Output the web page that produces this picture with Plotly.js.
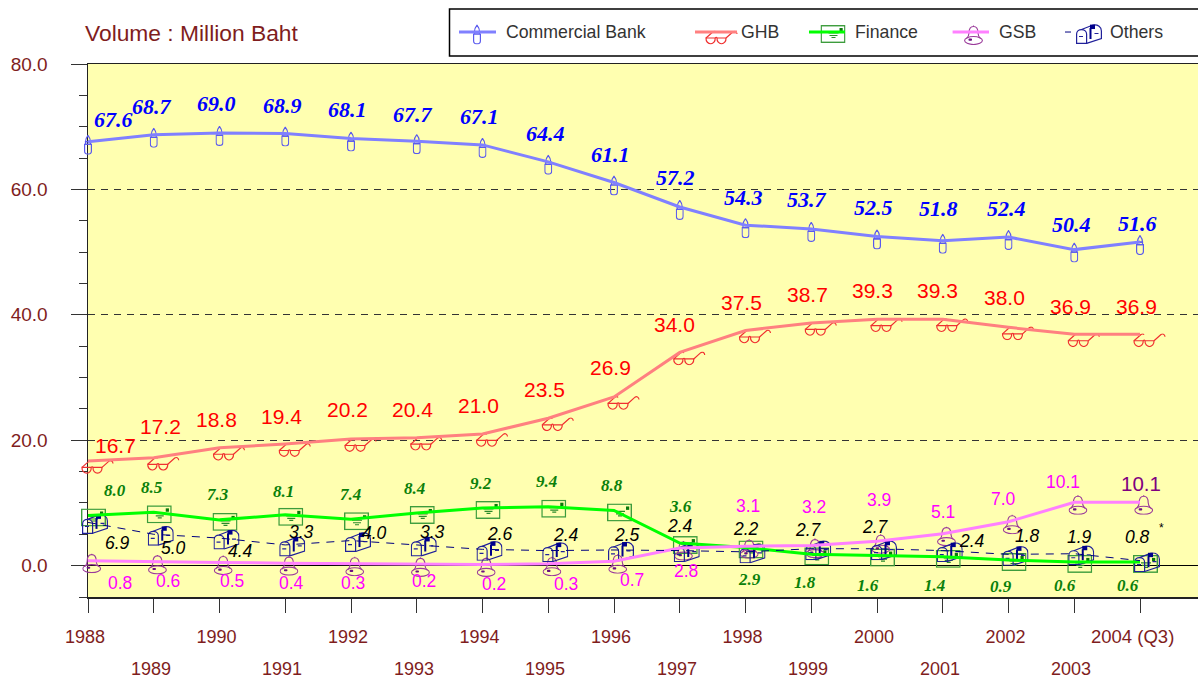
<!DOCTYPE html>
<html><head><meta charset="utf-8">
<script src="https://cdn.plot.ly/plotly-3.0.1.min.js"></script>
<style>html,body{margin:0;padding:0;background:#fff}#c{width:1198px;height:679px}</style>
</head><body><div id="c"></div>
<script>
const years=[1988,1989,1990,1991,1992,1993,1994,1995,1996,1997,1998,1999,2000,2001,2002,2003,2004];
const commercial=[67.6,68.7,69.0,68.9,68.1,67.7,67.1,64.4,61.1,57.2,54.3,53.7,52.5,51.8,52.4,50.4,51.6];
const ghb=[16.7,17.2,18.8,19.4,20.2,20.4,21.0,23.5,26.9,34.0,37.5,38.7,39.3,39.3,38.0,36.9,36.9];
const finance=[8.0,8.5,7.3,8.1,7.4,8.4,9.2,9.4,8.8,3.6,2.9,1.8,1.6,1.4,0.9,0.6,0.6];
const gsb=[0.8,0.6,0.5,0.4,0.3,0.2,0.2,0.3,0.7,2.8,3.1,3.2,3.9,5.1,7.0,10.1,10.1];
const others=[6.9,5.0,4.4,3.3,4.0,3.3,2.6,2.4,2.5,2.4,2.2,2.7,2.7,2.4,1.8,1.9,0.8];

// label offsets from each point, in pixels (right, up)
const commercialDx=[25,-2,-3,-3,-4,-4,-3,-3,-4,-4,-2,-4,-4,-4,-2,-3,-3];
const commercialDy=[22,28,29,28,29,27,28,28,28,29,28,29,29,32,29,25,19];
const ghbDx=[27,7,-3,-4,-4,-4,-4,-4,-4,-5,-4,-4,-5,-5,-4,-4,-4];
const ghbDy=[15,31,28,28,29,28,28,29,29,28,28,28,29,29,30,28,28];
const financeDx=[27,-2,-2,-2,-1,-2,-2,-2,-2,1,4,-6,-9,-8,-8,-9,-12];
const financeDy=[25,25,25,23,25,24,24,25,25,37,-32,-28,-30,-29,-26,-24,-24];
const othersDx=[29,20,21,16,23,16,17,18,13,0,0,-3,-2,29,19,5,-3];
const othersDy=[-21,-14,-13,13,8,13,15,16,15,25,23,19,22,10,18,17,24];
const gsbDx=[32,14,12,6,2,7,11,18,18,6,2,3,2,0,-5,-11,1];
const gsbDy=[-22,-19,-18,-20,-19,-17,-20,-20,-19,-23,40,39,41,22,23,20,19];

const W=1198,H=679,L=88,T=64,B=597.4;
const PW=W, PH=B-T, PXY=65.75, PY=PH/85;
const xMax=1988+(W-L)/PXY, xMin2=1988-L/PXY;
const DARKRED='#7f1d1d';

function uri(w,h,body){
  return 'data:image/svg+xml,'+encodeURIComponent(`<svg xmlns="http://www.w3.org/2000/svg" width="${w}" height="${h}" viewBox="0 0 ${w} ${h}" preserveAspectRatio="none"><g fill="none" stroke-width="1.2">${body}</g></svg>`);
}
const icons={
 candle:{w:8,h:20,dx:0,dy:3,src:uri(8,20,`<g stroke="#5a5aee"><path d="M4 .5C6 3 6.5 5 6.5 7L1.5 7C1.5 5 2 3 4 .5Z"/><path d="M1.5 7H6.5V9.5H1.5Z"/><path d="M.6 9.5H7.4V16.5C7.4 18.2 6 19.4 4 19.4S.6 18.2 .6 16.5Z"/></g>`)},
 glasses:{w:33,h:14,dx:9.5,dy:6,src:uri(33,14,`<g stroke="#f03030"><path d="M1 7.5L8 1.2C9 .5 10.5 .6 11 1.5"/><path d="M1 7.5H10.2C10.4 11 8.3 13.3 5.8 13.3C3.2 13.3 .8 11 1 7.5Z"/><path d="M10.2 7.5C11 6.7 11.6 6.7 12 7.5"/><path d="M12 7.5H21C21.2 11 19 13.3 16.5 13.3C14 13.3 11.8 11 12 7.5Z"/><path d="M21 7.5L28 1.2C29.5 .2 31.8 .8 32 3.5"/></g>`)},
 envelope:{w:25,h:18,dx:5.5,dy:2,src:uri(25,18,`<rect x=".7" y=".7" width="23.6" height="16.6" stroke="#3c9c3c" stroke-width="1.4"/><rect x="19" y="3" width="3.2" height="3.4" fill="#0a7a0a"/><path d="M8 8H18M9 10.5H17M11 12.5H15" stroke="#2a8a2a"/>`)},
 bell:{w:19,h:20,dx:3.7,dy:2.5,src:uri(19,20,`<g stroke="#9a3a9a" stroke-width="1.1"><path d="M9.5 1.5C6 1.5 5 4.5 5 8C5 10 4.5 11.5 2.5 13.5M9.5 1.5C13 1.5 14 4.5 14 8C14 10 14.5 11.5 16.5 13.5"/><path d="M9.5 .5V1.5"/><ellipse cx="9.5" cy="15.5" rx="8.9" ry="4"/></g><rect x="4.5" y="13.5" width="3.5" height="2.2" rx=".8" fill="#6a1080"/>`)},
 mailbox:{w:26,h:20,dx:7,dy:1.5,src:uri(26,20,`<g stroke="#20209a"><path d="M.6 10C.6 7 3 5.5 5.5 5.5C8 5.5 10.6 7 10.6 10V19.4H.6Z"/><path d="M5.5 5.5L17 1C22 .3 25.4 3 25.4 7V14.5L10.6 19.4"/><path d="M3 12.5H7M18.5 9.5H22.5"/></g><path d="M14.5 4V15" stroke="#00008b" stroke-width="2"/><rect x="14" y=".6" width="5" height="4.4" fill="#00008b"/>`)}
};

const series=[
 {name:'Commercial Bank',y:commercial,color:'#8080ff',width:3,icon:'candle',dx:commercialDx,dy:commercialDy,lc:'#0000ff',font:'"Liberation Serif"',size:22,weight:'bold',italic:true},
 {name:'GHB',y:ghb,color:'#ff8080',width:3,icon:'glasses',dx:ghbDx,dy:ghbDy,lc:'#ff0000',font:'"Liberation Sans"',size:21},
 {name:'Finance',y:finance,color:'#00ff00',width:3,icon:'envelope',dx:financeDx,dy:financeDy,lc:'#0a800a',font:'"Liberation Serif"',size:17,weight:'bold',italic:true},
 {name:'GSB',y:gsb,color:'#ff80ff',width:3,icon:'bell',dx:gsbDx,dy:gsbDy,lc:'#ff00ff',font:'"Liberation Sans"',size:17.5},
 {name:'Others',y:others,color:'#000080',width:1,dash:'8px,7px',icon:'mailbox',dx:othersDx,dy:othersDy,lc:'#000000',font:'"Liberation Sans"',size:17.5,italic:true}
];

const traces=[{x:[1988],y:[0],xaxis:'x',yaxis:'y',mode:'markers',marker:{opacity:0,size:1},showlegend:false,hoverinfo:'skip'}];
const images=[],annotations=[],shapes=[];

// yellow plot background
shapes.push({type:'rect',xref:'paper',yref:'paper',x0:L/W,x1:1,y0:0,y1:1,layer:'below',fillcolor:'#ffffb0',line:{width:0}});

series.forEach(s=>{
  traces.push({type:'scatter',mode:'lines',name:s.name,x:years,y:s.y,xaxis:'x2',yaxis:'y2',
    line:{color:s.color,width:s.width,dash:s.dash||'solid',shape:'linear'},hoverinfo:'skip',showlegend:false});
  const ic=icons[s.icon];
  years.forEach((yr,i)=>{
    images.push({source:ic.src,xref:'x2',yref:'y2',x:yr+ic.dx/PXY,y:s.y[i]-ic.dy/PY,
      sizex:ic.w/PXY,sizey:ic.h/PY,xanchor:'center',yanchor:'middle',sizing:'stretch',layer:'below'});
    const special=(s.name==='GSB'&&i===16);
    annotations.push({xref:'x2',yref:'y2',x:yr,y:s.y[i],xshift:s.dx[i],yshift:s.dy[i],showarrow:false,
      xanchor:'center',yanchor:'middle',text:s.y[i].toFixed(1),
      font:{family:s.font,size:special?20.5:s.size,color:special?'#800080':s.lc,weight:s.weight==='bold'?700:400,style:s.italic?'italic':'normal'}});
  });
});

// star beside the last Others label
annotations.push({xref:'x2',yref:'y2',x:2004,y:others[16],xshift:21,yshift:33,showarrow:false,text:'*',font:{family:'"Liberation Sans"',size:12,color:'#000'}});

// odd-year row and the 2004 label
years.forEach(yr=>{
  if(yr%2===1){annotations.push({xref:'x',yref:'paper',x:yr,y:0,yshift:-71.5,xshift:-3,showarrow:false,yanchor:'middle',borderpad:0,text:String(yr),font:{family:'"Liberation Sans"',size:18,color:DARKRED}});}
});
annotations.push({xref:'x',yref:'paper',x:2004,y:0,yshift:-39,xshift:-8,showarrow:false,yanchor:'middle',text:'2004 (Q3)',font:{family:'"Liberation Sans"',size:18.5,color:DARKRED}});

// title
const px=v=>v/W, py=v=>1-(v-T)/PH;
annotations.push({xref:'paper',yref:'paper',x:px(83),y:py(33),xanchor:'left',yanchor:'middle',showarrow:false,text:'Volume : Million Baht',font:{family:'"Liberation Sans"',size:22.8,color:DARKRED}});

// legend
shapes.push({type:'rect',xref:'paper',yref:'paper',x0:px(449.5),x1:1.02,y0:py(56),y1:py(9),line:{color:'#000',width:1.5},fillcolor:'rgba(0,0,0,0)',layer:'above'});
const legendRows=[
 {s:0,lx0:459,lx1:496,ix:477,iy:34.5,tx:504},
 {s:1,lx0:695,lx1:737,ix:721.5,iy:37.5,tx:739},
 {s:2,lx0:809,lx1:845,ix:833,iy:34,tx:853},
 {s:3,lx0:952.6,lx1:989,ix:973.5,iy:35,tx:996.5},
 {s:4,lx0:1065,lx1:1076,ix:1089,iy:34,tx:1108}
];
legendRows.forEach(r=>{
  const s=series[r.s], ic=icons[s.icon];
  shapes.push({type:'line',xref:'paper',yref:'paper',x0:px(r.lx0),x1:px(r.lx1),y0:py(32),y1:py(32),layer:'above',line:{color:s.color,width:s.width,dash:s.dash?'6px,5px':'solid'}});
  images.push({source:ic.src,xref:'paper',yref:'paper',x:px(r.ix),y:py(r.iy),sizex:ic.w/PW,sizey:ic.h/PH,xanchor:'center',yanchor:'middle',sizing:'stretch',layer:'above'});
  annotations.push({xref:'paper',yref:'paper',x:px(r.tx),y:py(32),xanchor:'left',yanchor:'middle',showarrow:false,text:s.name,font:{family:'"Liberation Sans"',size:17.7,color:'#333333'}});
});

const evenLabels=years.map(y=>(y%2===0&&y<2004)?String(y):'');
const layout={
 width:W,height:H,paper_bgcolor:'#fff',plot_bgcolor:'rgba(0,0,0,0)',showlegend:false,hovermode:false,
 margin:{l:0,r:0,t:T,b:H-B,pad:0},
 font:{family:'"Liberation Sans"'},
 xaxis:{domain:[L/W,1],range:[1988,xMax],anchor:'y',tickmode:'array',tickvals:years,ticktext:evenLabels,
   ticks:'outside',ticklen:14,tickwidth:1,tickcolor:'#333',showgrid:false,zeroline:false,
   showline:true,linecolor:'#222',linewidth:1.5,mirror:true,
   ticklabelshift:-3,ticklabelstandoff:9,tickangle:0,tickfont:{family:'"Liberation Sans"',size:18,color:DARKRED}},
 yaxis:{domain:[0,1],range:[-5,80],anchor:'x',tickmode:'array',tickvals:[0,20,40,60,80],ticktext:['0.0','20.0','40.0','60.0','80.0'],
   ticks:'outside',ticklen:16,tickwidth:1,tickcolor:'#333',
   minor:{tickmode:'linear',tick0:0,dtick:5,ticks:'outside',ticklen:8,tickwidth:1,tickcolor:'#333',showgrid:false},
   showgrid:true,gridcolor:'#333',griddash:'7px,6px',gridwidth:1,
   zeroline:true,zerolinecolor:'#000',zerolinewidth:1,
   showline:true,linecolor:'#222',linewidth:1.5,
   ticklabelstandoff:19,tickfont:{family:'"Liberation Sans"',size:19,color:DARKRED}},
 xaxis2:{domain:[0,1],range:[xMin2,xMax],anchor:'y2',visible:false,fixedrange:true},
 yaxis2:{domain:[0,1],range:[-5,80],anchor:'x2',visible:false,fixedrange:true},
 images,annotations,shapes
};
Plotly.newPlot('c',traces,layout,{displayModeBar:false,staticPlot:true});
</script></body></html>
